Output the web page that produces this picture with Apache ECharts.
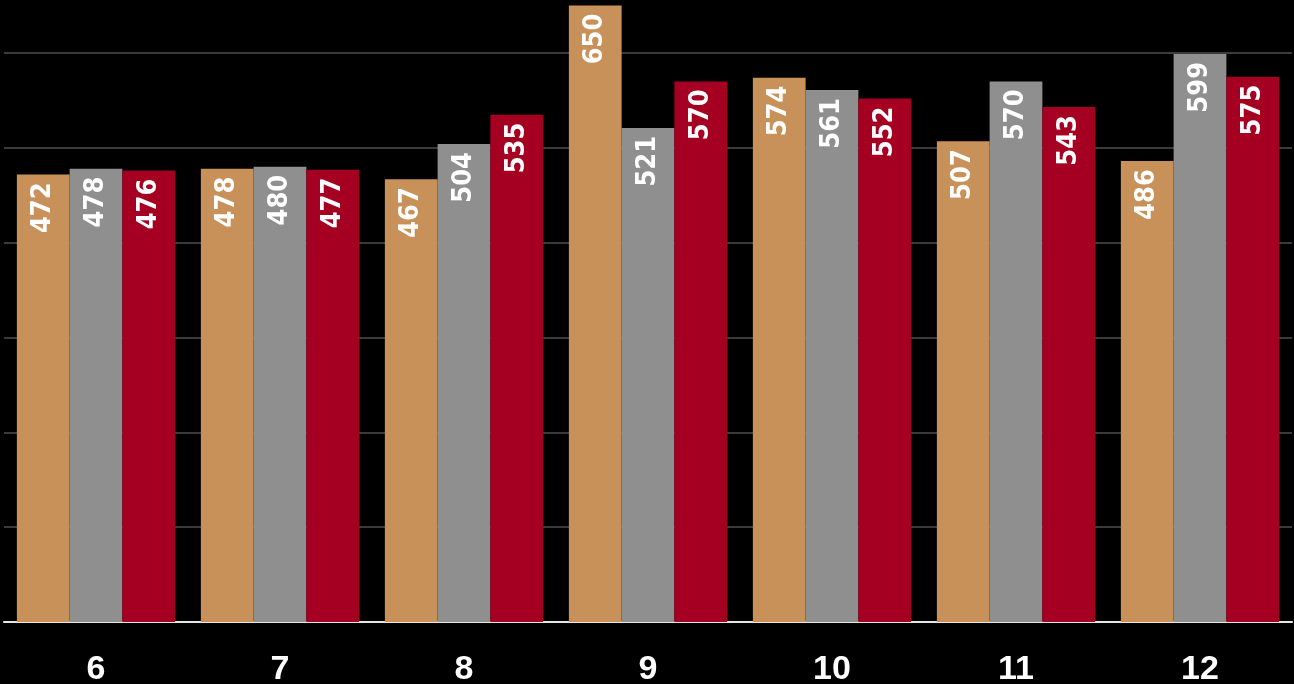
<!DOCTYPE html>
<html><head><meta charset="utf-8">
<style>html,body{margin:0;padding:0;background:#000;}#c{width:1294px;height:684px;}</style>
<script src="https://cdn.jsdelivr.net/npm/echarts@6/dist/echarts.min.js"></script>
</head><body><div id="c"></div>
<script>
const categories = ['6','7','8','9','10','11','12'];
const seriesA = [472, 478, 467, 650, 574, 507, 486];
const seriesB = [478, 480, 504, 521, 561, 570, 599];
const seriesC = [476, 477, 535, 570, 552, 543, 575];
const colors = ['#C8915A', '#8F8F8F', '#A50021'];

const chart = echarts.init(document.getElementById('c'), null, {renderer: 'canvas'});
const label = {
  show: true, position: 'insideTop', rotate: 90, align: 'right', verticalAlign: 'middle',
  distance: 8, color: '#fff',
  fontFamily: '"Liberation Sans Narrow", "DejaVu Sans Condensed", "Roboto Condensed", Roboto, sans-serif',
  fontSize: 27, fontWeight: 'bold'
};
function mk(name, data, color) {
  return {name, type: 'bar', data, clip: false, barGap: '0%', barCategoryGap: '14%',
    itemStyle: {color, borderWidth: 0}, label};
}
chart.setOption({
  backgroundColor: '#000',
  animation: false,
  grid: {left: 4, right: 2, top: 53, bottom: 62, containLabel: false, outerBoundsMode: 'none'},
  xAxis: {type: 'category', data: categories,
    axisLine: {lineStyle: {color: '#e6e6e6', width: 2}},
    axisTick: {show: false},
    axisLabel: {color: '#fff', fontFamily: '"Liberation Sans", Arial, sans-serif', fontWeight: 'bold', fontSize: 34, margin: 31}},
  yAxis: {type: 'value', min: 0, max: 600, interval: 100,
    axisLabel: {show: false}, axisLine: {show: false}, axisTick: {show: false},
    splitLine: {lineStyle: {color: '#3a3a3a', width: 2}}},
  series: [mk('A', seriesA, colors[0]), mk('B', seriesB, colors[1]), mk('C', seriesC, colors[2])]
});
</script></body></html>
